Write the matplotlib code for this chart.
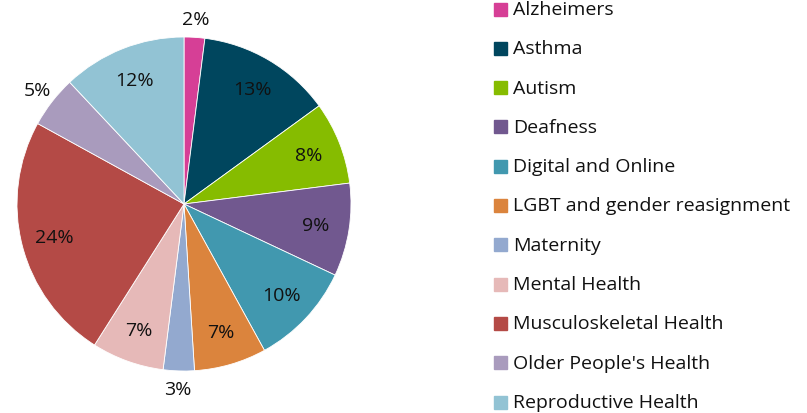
import numpy as np
import matplotlib
matplotlib.use('Agg')
from matplotlib import pyplot as plt
from matplotlib.patches import Rectangle

categories = ['Alzheimers', 'Asthma', 'Autism', 'Deafness', 'Digital and Online',
              'LGBT and gender reasignment', 'Maternity', 'Mental Health',
              'Musculoskeletal Health', "Older People's Health", 'Reproductive Health']
shares = [2, 13, 8, 9, 10, 7, 3, 7, 24, 5, 12]
colors = ['#D63F96', '#00465E', '#86BC00', '#71588F', '#4198AF', '#DB843D',
          '#93A9CF', '#E6B9B8', '#B44A46', '#A99BBD', '#92C3D4']

plt.rcParams['font.family'] = ['Open Sans', 'DejaVu Sans']
FS = 14

fig = plt.figure(figsize=(8.07, 4.14), dpi=100)
ax = fig.add_axes([17 / 807, 42 / 414, 334 / 807, 334 / 414])

wedges, _ = ax.pie(shares, colors=colors, startangle=90, counterclock=False,
                   wedgeprops={'edgecolor': 'white', 'linewidth': 0.6})
ax.set_xlim(-1, 1)
ax.set_ylim(-1, 1)
ax.set_aspect('equal')

# percentage labels, small slices pushed outside
for w, v in zip(wedges, shares):
    ang = np.deg2rad((w.theta1 + w.theta2) / 2)
    r = 1.11 if v < 6 else 0.80
    ax.text(r * np.cos(ang), r * np.sin(ang), '{}%'.format(v),
            ha='center', va='center', fontsize=FS, color='#111111', clip_on=False)

# legend
y0 = 10
step = 39.3
for i, (name, c) in enumerate(zip(categories, colors)):
    yc = y0 + i * step
    fig.add_artist(Rectangle((494 / 807, (414 - yc - 6.5) / 414), 13 / 807, 13 / 414,
                             transform=fig.transFigure, color=c))
    fig.text(513 / 807, (414 - yc) / 414, name, fontsize=FS, va='center', ha='left',
             color='#111111')

fig.savefig('out.png', dpi=100)
